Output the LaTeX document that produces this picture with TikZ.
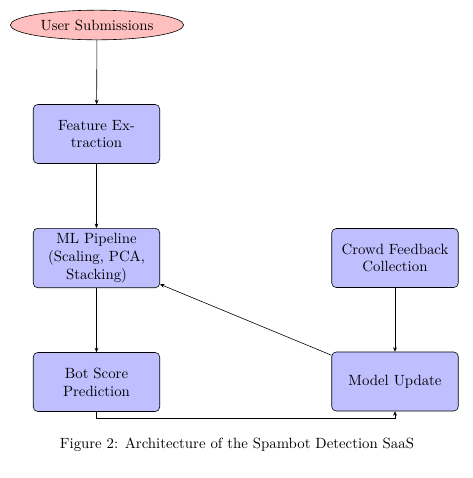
\documentclass[tikz,border=0pt]{standalone}
\usetikzlibrary{shapes.geometric,arrows.meta}
\begin{document}
\begin{tikzpicture}[x=0.675pt,y=-0.675pt,
  startnode/.style={ellipse,draw,fill=red!25,inner sep=0pt,minimum width=117pt,minimum height=20pt},
  procbox/.style={rectangle,rounded corners=3pt,draw,fill=blue!25,text width=2.6cm,align=center,minimum width=3cm,minimum height=1.4cm},
  conn/.style={draw,-{Stealth[length=3pt,width=2.6pt]}}]
\useasboundingbox (0,0) rectangle (473,478);
\node[startnode] (user) at (97,25) {User Submissions};
\node[procbox] (feat) at (96.5,134) {Feature Ex-\\traction};
\node[procbox] (ml) at (96.5,258) {ML Pipeline\\(Scaling, PCA,\\Stacking)};
\node[procbox] (bot) at (96.5,382) {Bot Score\\Prediction};
\node[procbox] (crowd) at (395,258) {Crowd Feedback\\Collection};
\node[procbox] (model) at (395,381.5) {Model Update};
\node (cap) at (237,445) {Figure 2: Architecture of the Spambot Detection SaaS};
\draw[conn] (user) -- (feat);
\draw[conn] (feat) -- (ml);
\draw[conn] (ml) -- (bot);
\draw[conn] (crowd) -- (model);
\draw[conn] (model) -- (ml);
\draw[conn] (bot.south) -- ++(0,6) -| (model.south);
\end{tikzpicture}
\end{document}
